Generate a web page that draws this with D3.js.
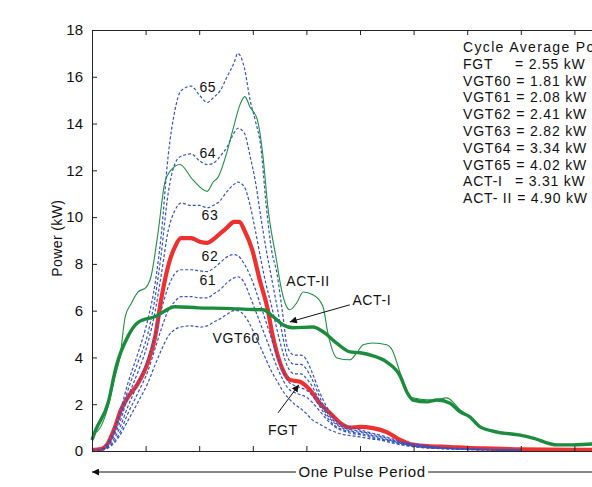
<!DOCTYPE html>
<html>
<head>
<meta charset="utf-8">
<script src="https://cdn.jsdelivr.net/npm/d3@7"></script>
<style>
  body { margin: 0; background: #fff; }
  svg { display: block; font-family: 'Liberation Sans', Arial, sans-serif; }
</style>
</head>
<body>
<div class="chart-holder"></div>
<script>
// values, x in ticks (one pulse period = 10 ticks), y in kW
let yTicks = [0, 2, 4, 6, 8, 10, 12, 14, 16, 18]
let xTicks = [0, 1, 2, 3, 4, 5, 6, 7, 8, 9, 10]

let fgtX = [0, 0.17, 0.3, 0.43, 0.54, 0.67, 0.86, 1.04, 1.18, 1.29, 1.42, 1.55, 1.66, 1.85, 2.01, 2.15, 2.26, 2.39, 2.52, 2.65, 2.75, 2.84, 2.99, 3.13, 3.28, 3.36, 3.45, 3.56, 3.69, 3.88, 4.07, 4.25, 4.44, 4.63, 4.81, 5.0, 5.24, 5.5, 5.75, 5.93, 6.25, 6.68, 7.0, 7.5, 8.0, 9.33, 10]
let fgtY = [0.04, 0.08, 0.34, 1.03, 1.76, 2.3, 2.9, 3.77, 4.9, 6.47, 7.9, 8.74, 9.1, 9.1, 8.95, 8.9, 9.04, 9.3, 9.55, 9.8, 9.8, 9.45, 8.6, 7.3, 6.04, 5.05, 4.2, 3.47, 3.04, 2.96, 2.6, 2.04, 1.62, 1.2, 1.0, 1.03, 0.98, 0.81, 0.47, 0.3, 0.21, 0.17, 0.13, 0.1, 0.07, 0.05, 0.05]

let actIX = [0, 0.07, 0.3, 0.45, 0.67, 0.86, 1.18, 1.55, 1.98, 2.5, 3.0, 3.19, 3.38, 3.56, 3.75, 4.12, 4.31, 4.57, 4.81, 5.0, 5.24, 5.5, 5.75, 5.88, 5.99, 6.25, 6.44, 6.68, 6.87, 7.05, 7.24, 7.56, 7.99, 8.23, 8.68, 8.97, 9.33, 10]
let actIY = [0.47, 0.9, 2.05, 3.6, 4.9, 5.5, 5.75, 6.17, 6.12, 6.1, 6.05, 6.04, 5.74, 5.4, 5.27, 5.3, 5.1, 4.6, 4.24, 4.2, 4.07, 3.8, 3.2, 2.5, 2.18, 2.1, 2.18, 2.04, 1.67, 1.46, 1.03, 0.81, 0.68, 0.55, 0.26, 0.26, 0.3, 0.3]

let actIIX = [0, 0.07, 0.3, 0.43, 0.52, 0.62, 0.73, 0.86, 1.01, 1.1, 1.23, 1.36, 1.47, 1.64, 1.88, 2.15, 2.26, 2.35, 2.52, 2.63, 2.76, 2.85, 2.95, 3.08, 3.19, 3.28, 3.45, 3.51, 3.6, 3.69, 3.82, 3.94, 4.12, 4.31, 4.4, 4.57, 4.81, 4.94, 5.06, 5.24, 5.5, 5.6, 5.75, 5.93, 6.36, 6.62, 6.87, 7.05, 7.24, 7.56, 7.99, 8.23, 8.68, 8.97, 9.33, 10]
let actIIY = [0.77, 0.8, 1.9, 3.2, 4.0, 5.75, 6.3, 6.8, 7.0, 7.45, 9.3, 11.5, 12.0, 12.25, 11.6, 11.1, 11.5, 11.7, 12.8, 13.75, 14.8, 15.15, 14.7, 14.2, 12.6, 10.45, 8.05, 7.2, 6.34, 6.04, 6.34, 6.8, 6.68, 6.17, 5.05, 3.98, 3.9, 4.2, 4.54, 4.62, 4.54, 4.32, 3.34, 2.3, 2.18, 2.27, 1.76, 1.46, 1.03, 0.81, 0.68, 0.55, 0.26, 0.26, 0.3, 0.3]

let vgtX = [0, 0.2, 0.35, 0.5, 0.67, 0.86, 1.04, 1.18, 1.29, 1.42, 1.55, 1.66, 1.85, 2.01, 2.15, 2.26, 2.39, 2.52, 2.65, 2.72, 2.84, 2.95, 3.05, 3.15, 3.25, 3.35, 3.45, 3.55, 3.65, 3.78, 3.9, 4.0, 4.1, 4.25, 4.4, 4.55, 4.7, 4.85, 5.0, 5.25, 5.5, 5.75, 6.0, 6.5, 7.0, 7.5, 8.0]
let vgt65 = [0.02, 0.1, 0.6, 1.5, 2.9, 4.2, 5.6, 7.2, 9.2, 12.6, 14.6, 15.4, 15.6, 15.2, 14.9, 15.1, 15.4, 16.0, 16.6, 17.0, 16.4, 15.0, 14.1, 13.0, 10.5, 8.6, 7.6, 6.0, 4.4, 4.1, 4.1, 3.9, 3.4, 2.5, 1.8, 1.3, 1.1, 1.0, 0.9, 0.75, 0.6, 0.4, 0.3, 0.15, 0.1, 0.06, 0.04]
let vgt64 = [0.02, 0.1, 0.5, 1.3, 2.6, 3.8, 5.0, 6.6, 8.4, 11.0, 12.3, 12.6, 12.7, 12.4, 12.25, 12.3, 12.6, 13.0, 13.6, 13.8, 13.6, 12.6, 11.5, 10.0, 8.6, 7.4, 6.2, 5.0, 4.0, 3.7, 3.7, 3.5, 3.1, 2.3, 1.6, 1.2, 1.0, 0.9, 0.85, 0.7, 0.55, 0.35, 0.25, 0.13, 0.09, 0.06, 0.04]
let vgt63 = [0.02, 0.08, 0.4, 1.1, 2.3, 3.4, 4.6, 6.0, 7.5, 9.4, 10.3, 10.6, 10.5, 10.5, 10.4, 10.5, 10.7, 11.1, 11.4, 11.5, 11.3, 10.5, 9.4, 8.2, 7.1, 6.2, 5.2, 4.3, 3.6, 3.3, 3.3, 3.1, 2.8, 2.1, 1.5, 1.15, 0.95, 0.85, 0.8, 0.65, 0.5, 0.33, 0.22, 0.12, 0.08, 0.05, 0.04]
let vgt62 = [0.02, 0.07, 0.3, 0.9, 1.9, 2.9, 3.9, 5.0, 6.0, 7.0, 7.6, 7.75, 7.75, 7.7, 7.67, 7.8, 8.05, 8.3, 8.4, 8.35, 8.0, 7.5, 6.9, 6.2, 5.5, 4.8, 4.1, 3.5, 3.0, 2.8, 2.7, 2.6, 2.4, 1.9, 1.4, 1.05, 0.9, 0.8, 0.75, 0.6, 0.45, 0.3, 0.2, 0.11, 0.07, 0.05, 0.03]
let vgt61 = [0.02, 0.06, 0.25, 0.7, 1.6, 2.5, 3.4, 4.4, 5.2, 6.0, 6.4, 6.6, 6.6, 6.55, 6.55, 6.7, 6.9, 7.2, 7.4, 7.45, 7.2, 6.6, 6.0, 5.4, 4.8, 4.2, 3.6, 3.1, 2.7, 2.5, 2.4, 2.3, 2.1, 1.7, 1.3, 1.0, 0.85, 0.75, 0.7, 0.55, 0.4, 0.27, 0.18, 0.1, 0.06, 0.04, 0.03]
let vgt60 = [0.02, 0.05, 0.2, 0.6, 1.3, 2.1, 2.9, 3.7, 4.3, 4.9, 5.2, 5.3, 5.35, 5.3, 5.35, 5.5, 5.65, 5.85, 6.0, 6.0, 5.8, 5.4, 4.9, 4.4, 3.9, 3.4, 3.0, 2.6, 2.3, 2.0, 1.8, 1.6, 1.35, 1.15, 0.95, 0.8, 0.7, 0.65, 0.6, 0.5, 0.45, 0.38, 0.3, 0.15, 0.08, 0.05, 0.03]

let legendNames = ['FGT', 'VGT60', 'VGT61', 'VGT62', 'VGT63', 'VGT64', 'VGT65', 'ACT-I', 'ACT- II']
let legendValues = [2.55, 1.81, 2.08, 2.41, 2.82, 3.34, 4.02, 3.31, 4.90]

let width = 592
let height = 487
let margin = { top: 30, left: 92 }
let plotW = 536
let plotH = 421

let x = d3.scaleLinear().domain([0, 10]).range([margin.left, margin.left + plotW])
let y = d3.scaleLinear().domain([0, 18]).range([margin.top + plotH, margin.top])

let svg = d3.select('.chart-holder')
    .append('svg')
        .attr('width', width)
        .attr('height', height)

svg.append('rect').attr('width', width).attr('height', height).attr('fill', '#fff')

let defs = svg.append('defs')
defs.append('marker')
    .attr('id', 'head')
    .attr('viewBox', '0 0 10 10')
    .attr('refX', 10).attr('refY', 5)
    .attr('markerWidth', 11).attr('markerHeight', 7)
    .attr('markerUnits', 'userSpaceOnUse')
    .attr('orient', 'auto')
  .append('path')
    .attr('d', 'M0,0 L10,5 L0,10 Z')
    .attr('fill', '#111')

let toPoints = (xs, ys) => xs.map((d, i) => [d, ys[i]])
let line = d3.line()
    .x(d => x(d[0]))
    .y(d => y(d[1]))
    .curve(d3.curveMonotoneX)

let curves = svg.append('g').attr('class', 'curves')

// FGT first, the dashed VGT lines sit on top of it
curves.append('path')
    .attr('d', line(toPoints(fgtX, fgtY)))
    .attr('fill', 'none').attr('stroke', '#ee3030').attr('stroke-width', 4.2)
    .attr('stroke-linejoin', 'round')

let vgtSeries = [vgt60, vgt61, vgt62, vgt63, vgt64, vgt65]
curves.selectAll('.vgt')
    .data(vgtSeries)
    .enter()
    .append('path').attr('class', 'vgt')
        .attr('d', d => line(toPoints(vgtX, d)))
        .attr('fill', 'none')
        .attr('stroke', '#3553c2')
        .attr('stroke-width', 1.2)
        .attr('stroke-dasharray', '3,2')

curves.append('path')
    .attr('d', line(toPoints(actIIX, actIIY)))
    .attr('fill', 'none').attr('stroke', '#1f9040').attr('stroke-width', 1.1)

curves.append('path')
    .attr('d', line(toPoints(actIX, actIY)))
    .attr('fill', 'none').attr('stroke', '#1a8c3c').attr('stroke-width', 3.4)
    .attr('stroke-linejoin', 'round')

// axes, ticks point inward like the matlab box
let axisColor = '#222'
let leftAxis = svg.append('g')
    .attr('transform', 'translate(' + margin.left + ',0)')
    .call(d3.axisLeft(y).tickValues(yTicks).tickSizeInner(-5).tickSizeOuter(0).tickPadding(9))
let bottomAxis = svg.append('g')
    .attr('transform', 'translate(0,' + (margin.top + plotH) + ')')
    .call(d3.axisBottom(x).tickValues(xTicks).tickSizeInner(-5).tickSizeOuter(0).tickFormat(''))
let topAxis = svg.append('g')
    .attr('transform', 'translate(0,' + margin.top + ')')
    .call(d3.axisTop(x).tickValues(xTicks).tickSizeInner(-5).tickSizeOuter(0).tickFormat(''))

svg.selectAll('.domain, .tick line').attr('stroke', axisColor)
leftAxis.selectAll('.tick text')
    .attr('font-size', 15)
    .attr('font-family', "'Liberation Sans', Arial, sans-serif")
    .attr('fill', '#111')

svg.append('text')
    .attr('transform', 'translate(62,' + y(9.1) + ') rotate(-90)')
    .attr('text-anchor', 'middle')
    .attr('font-size', 14)
    .attr('letter-spacing', 0.4)
    .attr('fill', '#111')
    .text('Power (kW)')

// curve labels
let note = (label, cx, cy) => svg.append('text')
    .attr('x', x(cx)).attr('y', y(cy) + 5)
    .attr('text-anchor', 'middle')
    .attr('font-size', 14)
    .attr('letter-spacing', 0.6)
    .attr('fill', '#111')
    .text(label)

note('65', 2.16, 15.55)
note('64', 2.16, 12.76)
note('63', 2.2, 10.1)
note('62', 2.2, 8.35)
note('61', 2.16, 7.32)
note('VGT60', 2.69, 4.84)
note('ACT-II', 4.03, 7.28)
note('ACT-I', 5.22, 6.47)
note('FGT', 3.56, 0.9)

let arrow = (x1, y1, x2, y2) => svg.append('line')
    .attr('x1', x(x1)).attr('y1', y(y1))
    .attr('x2', x(x2)).attr('y2', y(y2))
    .attr('stroke', '#111').attr('stroke-width', 1)
    .attr('marker-end', 'url(#head)')

arrow(4.81, 6.25, 3.69, 5.52)
arrow(3.47, 1.63, 3.86, 2.83)

// cycle average legend (cut off by the right edge, as in the source figure)
let legend = svg.append('g').attr('class', 'legend')
legend.append('text')
    .attr('x', 463).attr('y', 52)
    .attr('font-size', 14).attr('letter-spacing', 1.35).attr('fill', '#111')
    .text('Cycle Average Power')

let rows = legend.selectAll('.row')
    .data(legendNames)
    .enter()
    .append('g').attr('class', 'row')
        .attr('transform', (d, i) => 'translate(0,' + (68.8 + i * 16.8) + ')')
rows.append('text').attr('class', 'name')
    .attr('x', 463)
    .attr('font-size', 14).attr('letter-spacing', 0.8).attr('fill', '#111')
    .text(d => d)
rows.append('text')
    .attr('x', function() {
        let w = this.parentNode.querySelector('.name').getComputedTextLength()
        return Math.max(463 + w + 5, 515)
    })
    .attr('font-size', 14).attr('letter-spacing', 0.8).attr('fill', '#111')
    .text((d, i) => '= ' + legendValues[i].toFixed(2) + ' kW')

// one pulse period arrow below the axis
let periodY = 472
svg.append('line')
    .attr('x1', 296).attr('y1', periodY)
    .attr('x2', x(0)).attr('y2', periodY)
    .attr('stroke', '#111').attr('stroke-width', 1)
    .attr('marker-end', 'url(#head)')
svg.append('line')
    .attr('x1', 428).attr('y1', periodY)
    .attr('x2', x(10)).attr('y2', periodY)
    .attr('stroke', '#111').attr('stroke-width', 1)
svg.append('text')
    .attr('x', 362).attr('y', periodY + 5)
    .attr('text-anchor', 'middle')
    .attr('font-size', 15).attr('letter-spacing', 0.6).attr('fill', '#111')
    .text('One Pulse Period')
</script>
</body>
</html>
